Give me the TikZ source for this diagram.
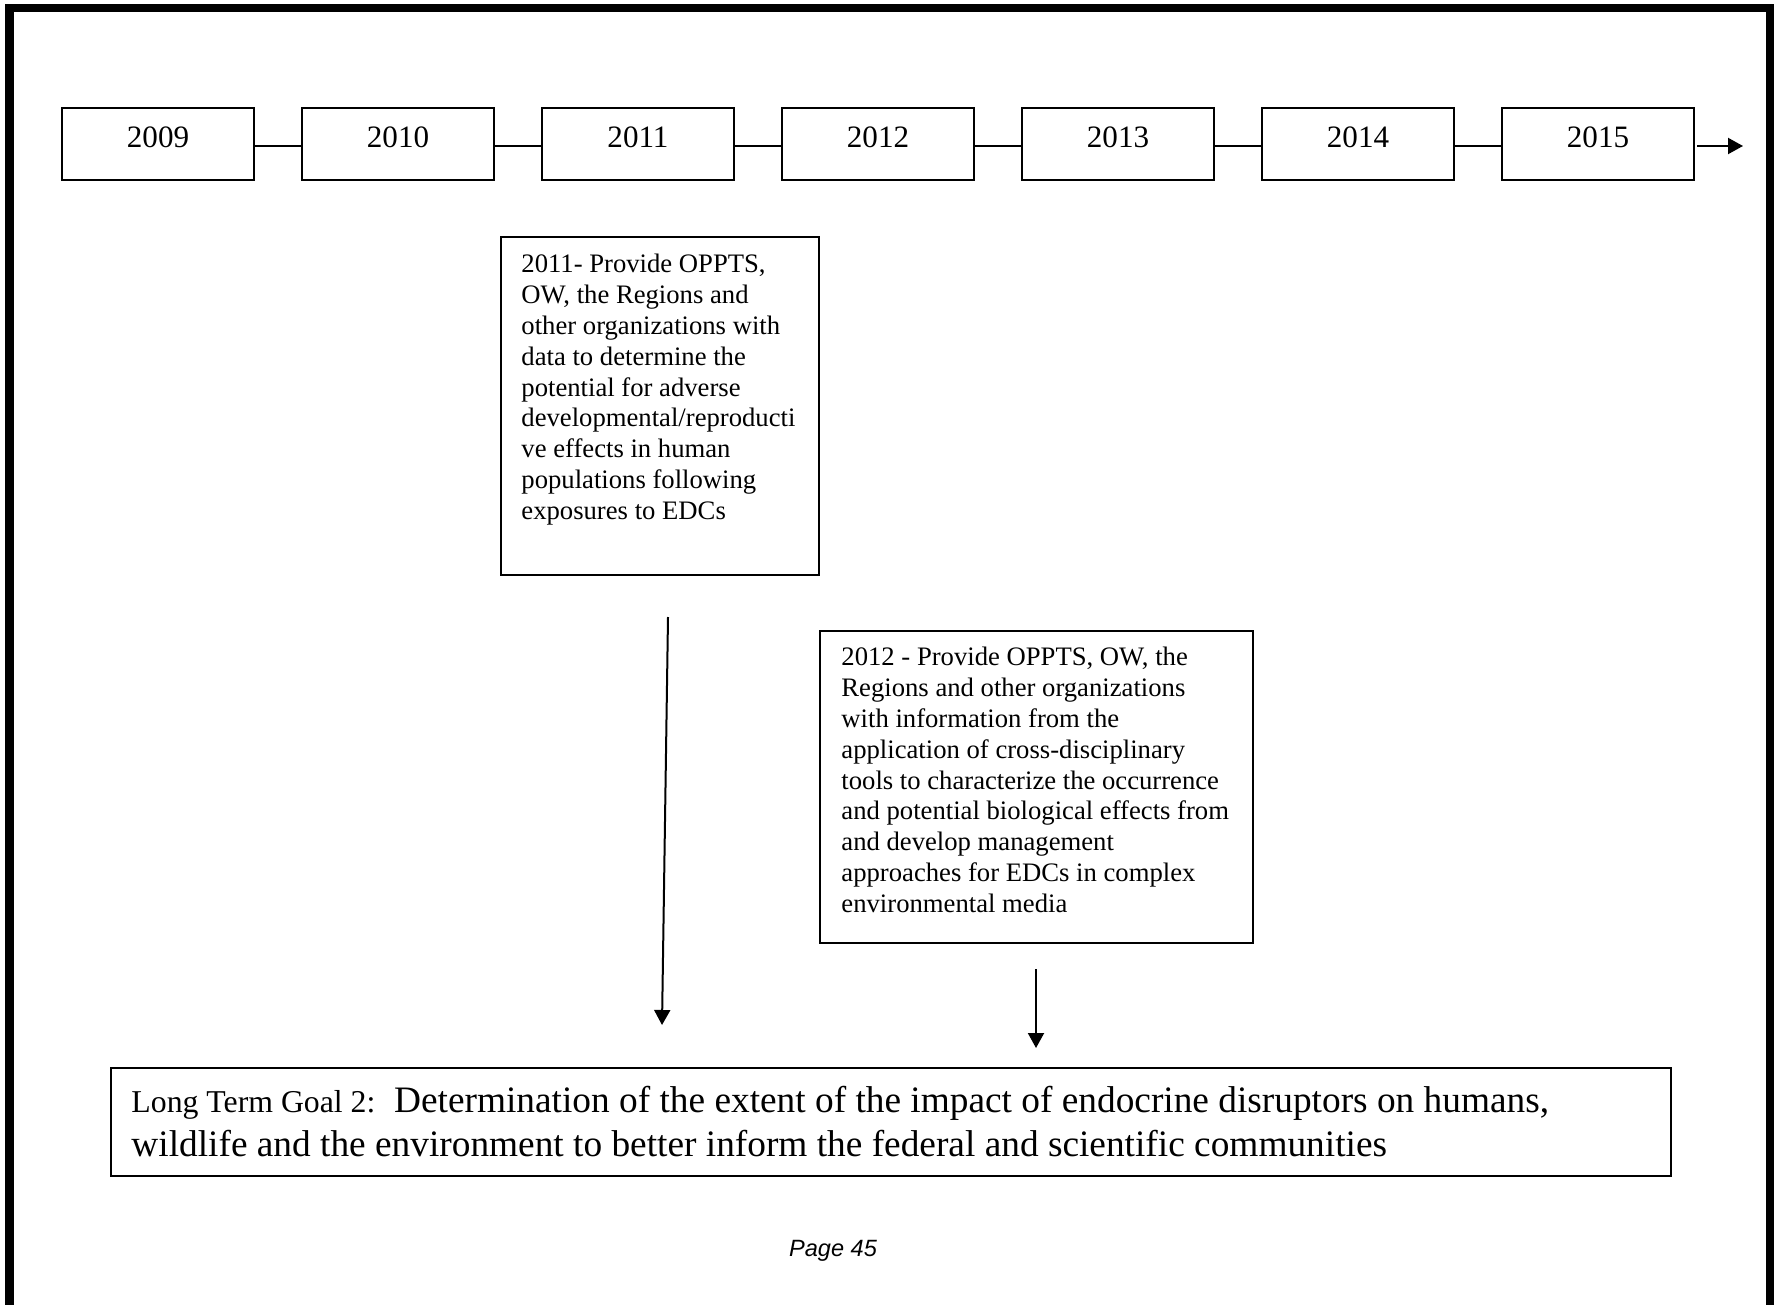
\documentclass[tikz,border=0pt]{standalone}
\usepackage{fontspec}
\setmainfont{Liberation Serif}
\newfontfamily\arialfont{Liberation Sans}
\usetikzlibrary{arrows.meta,calc}
\begin{document}
\begin{tikzpicture}[x=0.45pt,y=-0.45pt,
  yearbox/.style={draw, line width=0.9pt, minimum width=86.4pt, minimum height=32.4pt,
    inner sep=0pt, font=\fontsize{14}{16}\selectfont, text height=9.9pt, text depth=6.3pt},
  conn/.style={line width=0.9pt},
  arr/.style={line width=0.9pt, -{Triangle[length=6.75pt,width=7.2pt]}},
  txtbox/.style={draw, line width=0.9pt, inner sep=0pt, anchor=north west},
  boxtext/.style={inner sep=0pt, anchor=north west, align=left, font=\fontsize{12}{13.86}\selectfont},
  frame/.style={line width=3.6pt, line join=miter}
]
\useasboundingbox (0,0) rectangle (1775,1305);
\fill[white] (0,0) rectangle (1775,1305);
% page frame
\draw[frame] (9.5,1305) -- (9.5,8) -- (1769.5,8) -- (1769.5,1305);

% timeline
\foreach \yr [count=\i from 0] in {2009,2010,2011,2012,2013,2014,2015}
  \node[yearbox] (y\yr) at (158+240*\i,144) {\yr};
\draw[conn] ($(y2009.east)+(0,2)$) -- ($(y2010.west)+(0,2)$);
\draw[conn] ($(y2010.east)+(0,2)$) -- ($(y2011.west)+(0,2)$);
\draw[conn] ($(y2011.east)+(0,2)$) -- ($(y2012.west)+(0,2)$);
\draw[conn] ($(y2012.east)+(0,2)$) -- ($(y2013.west)+(0,2)$);
\draw[conn] ($(y2013.east)+(0,2)$) -- ($(y2014.west)+(0,2)$);
\draw[conn] ($(y2014.east)+(0,2)$) -- ($(y2015.west)+(0,2)$);
\coordinate (tlend) at (1743,146);
\draw[arr] ($(y2015.east)+(2,2)$) -- (tlend);

% 2011 box
\node[txtbox, minimum width=143.1pt, minimum height=152.1pt] (b2011) at (500,236) {};
\node[boxtext] (t2011) at (521,254) {2011- Provide OPPTS,\\
OW, the Regions and\\
other organizations with\\
data to determine the\\
potential for adverse\\
developmental/reproducti\\
ve effects in human\\
populations following\\
exposures to EDCs};

% 2012 box
\node[txtbox, minimum width=194.85pt, minimum height=140.4pt] (b2012) at (819,630) {};
\node[boxtext] (t2012) at (841,647) {2012 - Provide OPPTS, OW, the\\
Regions and other organizations\\
with information from the\\
application of cross-disciplinary\\
tools to characterize the occurrence\\
and potential biological effects from\\
and develop management\\
approaches for EDCs in complex\\
environmental media};

% goal box
\node[txtbox, minimum width=702pt, minimum height=48.6pt] (goal) at (110,1067) {};
\node[inner sep=0pt, anchor=north west, align=left, font=\fontsize{16.8}{19.8}\selectfont] (goaltext) at (131,1086)
  {{\fontsize{14.3}{19.8}\selectfont Long Term Goal 2:}\ \ Determination of the extent of the impact of endocrine disruptors on humans,\\
  wildlife and the environment to better inform the federal and scientific communities};

% arrows
\coordinate (a1s) at (668,617);
\coordinate (a1e) at (662,1025);
\coordinate (a2s) at (1036,969);
\coordinate (a2e) at (1036,1048);
\draw[arr] (a1s) -- (a1e);
\draw[arr] (a2s) -- (a2e);

% page number
\node[inner sep=0pt, font=\arialfont\itshape\fontsize{10.6}{12}\selectfont] (pg) at (833,1251) {Page 45};
\end{tikzpicture}
\end{document}
